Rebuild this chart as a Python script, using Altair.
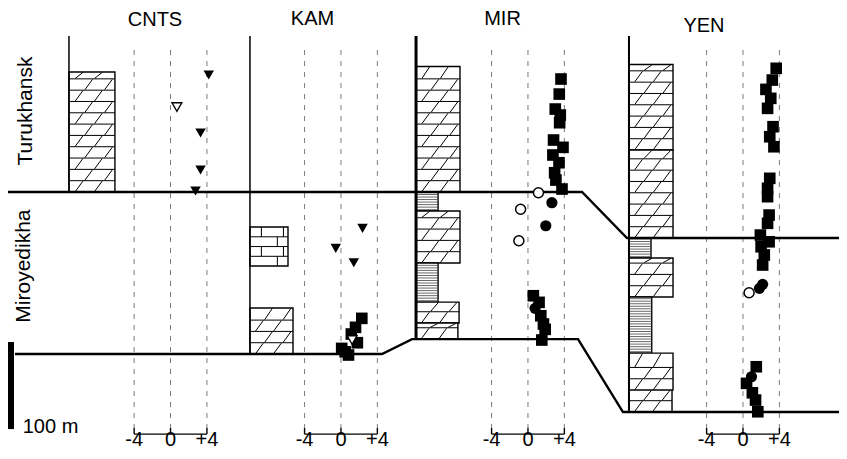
import altair as alt
import pandas as pd

# ---------------- values ----------------
SECTIONS = ["CNTS", "KAM", "MIR", "YEN"]
FORMATIONS = ["Turukhansk", "Miroyedikha"]
TICK_VALUES = [-4, 0, 4]
TICK_LABELS = ["-4", "0", "+4"]
SCALE_BAR_TOP, SCALE_BAR_BASE = 13.8, -86.2          # 100 m bar
SCALE_LABEL = "100 m"

# samples: delta13C (per mil) and level (m above base of Miroyedikha at CNTS)
CNTS_D13C = [4.2, 3.3, 0.7, 3.3, 2.75]
CNTS_LEVEL = [320.6, 254.0, 283.8, 211.4, 187.3]
CNTS_KIND = ["tri", "tri", "tri_open", "tri", "tri"]

KAM_D13C = [2.37, -0.57, 1.41, 2.29, 1.6, 1.14, 1.8, 0.46, 0.08, 0.83, 1.22]
KAM_LEVEL = [144.4, 121.4, 104.9, 41.0, 30.7, 23.0, 13.0, 2.6, 6.5, -1.1, 16.1]
KAM_KIND = ["tri", "tri", "tri", "sq", "sq", "sq", "sq", "sq", "sq", "sq", "tri_open"]

MIR_D13C = [3.63, 3.44, 3.0, 3.55, 3.48, 2.81, 3.85, 2.74, 3.41, 2.93, 3.07, 3.74,
            1.15, 2.63, -0.81, 1.96, -1.0,
            0.59, 1.22, 0.78, 1.41, 1.7, 1.89, 1.52]
MIR_LEVEL = [316.0, 298.7, 281.5, 274.6, 265.8, 245.9, 237.5, 228.7, 219.8, 208.3, 199.9, 189.6,
             185.3, 173.9, 166.3, 147.4, 130.2,
             67.0, 59.4, 52.5, 44.0, 34.5, 28.4, 16.1]
MIR_KIND = ["sq"] * 12 + ["circ_open", "circ", "circ_open", "circ", "circ_open"] + \
           ["sq", "sq", "circ", "sq", "sq", "sq", "sq"]

YEN_D13C = [3.65, 3.22, 2.52, 3.05, 2.7, 3.3, 2.94, 3.4, 2.94, 2.7, 2.7, 2.87, 2.7, 1.91, 2.87, 1.99, 2.34, 2.16,
            2.16, 1.81, 0.67,
            1.46, 0.93, 0.39, 1.03, 1.38, 1.63]
YEN_LEVEL = [328.3, 314.8, 304.1, 293.8, 282.3, 261.2, 249.7, 238.2, 201.9, 190.4, 180.8, 159.7, 150.2, 136.7,
             129.0, 123.3, 113.8, 102.3,
             80.1, 75.5, 70.4,
             -14.6, -26.1, -33.7, -44.5, -52.9, -66.3]
YEN_KIND = ["sq"] * 18 + ["circ", "circ", "circ_open"] + ["sq", "circ", "sq", "sq", "sq", "sq"]

# lithology intervals: section, top (m), base (m), rock type
LITH_SECTION = ["CNTS", "KAM", "KAM",
                "MIR", "MIR", "MIR", "MIR", "MIR", "MIR",
                "YEN", "YEN", "YEN", "YEN", "YEN", "YEN", "YEN"]
LITH_TOP = [324.1, 145.9, 52.9,
            330.3, 186.2, 164.3, 104.6, 59.7, 35.6,
            332.6, 234.4, 133.3, 110.3, 65.5, 1.1, -41.4]
LITH_BASE = [186.2, 101.1, 0.0,
             186.2, 164.3, 104.6, 59.7, 35.6, 17.2,
             234.4, 133.3, 110.3, 65.5, 1.1, -41.4, -66.6]
LITH_TYPE = ["dolomite", "limestone", "dolomite",
             "dolomite", "shale", "dolomite", "shale", "dolomite", "dolomite",
             "dolomite", "dolomite", "shale", "dolomite", "shale", "dolomite", "dolomite"]

# formation boundaries (levels at each section)
COLUMN_BASE = [186.2, 0.0, 17.2, -66.6]
UPPER_BOUNDARY_LEVEL = [186.2, 186.2, 133.3, 133.3]
LOWER_BOUNDARY_LEVEL = [0.0, 0.0, 17.2, 17.2, -66.6, -66.6]

# ---------------- layout (sheet units: 1 unit = 1 per mil) ----------------
X_MAX = 91.32
Y_MIN, Y_MAX = -111.4, 397.6
SECTION_ZERO = [17.86, 36.59, 57.14, 80.77]
COLUMN_X = [6.70, 26.59, 44.84, 68.24]
COLUMN_LINE_W = [1.5, 1.5, 3.0, 2.0]
COLUMN_TOP = 365.4
LITH_WIDTH = [5.05, 4.18, 4.73,
              4.83, 2.42, 4.83, 2.42, 4.73, 4.6,
              4.84, 4.84, 2.42, 4.84, 2.5, 4.84, 4.73]
UPPER_BOUNDARY_X = [0.0, 63.08, 68.02, X_MAX]
LOWER_BOUNDARY_X = [0.77, 41.10, 44.40, 62.64, 67.58, X_MAX]
DASH_TOP, DASH_BASE = 349.3, -83.9
BRACKET_Y, BRACKET_TICK_TOP = -92.0, -84.5
TICK_LABEL_Y = -105.8
TITLE_X = [16.15, 33.46, 54.34, 76.48]
TITLE_Y = [376.9, 378.0, 378.0, 370.0]
FORMATION_X = [2.64, 2.42]
FORMATION_Y = [279.2, 101.1]
SCALE_BAR_X = [0.0, 0.66]
SCALE_LABEL_POS = (1.62, -91.1)
FONT = "Liberation Sans"

X = alt.Scale(domain=[0, X_MAX], nice=False, zero=False)
Y = alt.Scale(domain=[Y_MIN, Y_MAX], nice=False, zero=False)

# ---------------- tables ----------------
samples = []
for sec, d, h, k in [("CNTS", CNTS_D13C, CNTS_LEVEL, CNTS_KIND), ("KAM", KAM_D13C, KAM_LEVEL, KAM_KIND),
                     ("MIR", MIR_D13C, MIR_LEVEL, MIR_KIND), ("YEN", YEN_D13C, YEN_LEVEL, YEN_KIND)]:
    z = SECTION_ZERO[SECTIONS.index(sec)]
    for dv, hv, kv in zip(d, h, k):
        samples.append({"section": sec, "d13c": dv, "level": hv, "kind": kv, "x": z + dv})
samples = pd.DataFrame(samples)

boxes = []
for s, t, b, ty, w in zip(LITH_SECTION, LITH_TOP, LITH_BASE, LITH_TYPE, LITH_WIDTH):
    x0 = COLUMN_X[SECTIONS.index(s)]
    boxes.append({"x": x0, "x2": x0 + w, "y": t, "y2": b, "type": ty})
boxes_df = pd.DataFrame(boxes)


def pattern(b):
    segs, fine = [], []
    x0, x1, top, base = b["x"], b["x2"], b["y"], b["y2"]
    w = x1 - x0
    if b["type"] == "shale":
        y = base + 1.6
        while y < top - 1.0:
            fine.append((x0, x1, y, y))
            y += 2.9
        return segs, fine
    row = 13.0 if b["type"] == "dolomite" else 11.2
    ys = []
    y = base + row
    while y < top - 4:
        ys.append(y)
        y += row
    bounds = [base] + ys + [top]
    for yy in ys:
        segs.append((x0, x1, yy, yy))
    for i in range(len(bounds) - 1):
        lo, hi = bounds[i], bounds[i + 1]
        if b["type"] == "dolomite":
            fr = [0.22, 0.64] if i % 2 == 0 else [0.43, 0.86]
            for f in fr:
                xc = x0 + f * w
                segs.append((xc - 0.42, xc + 0.42, lo + 0.5, hi - 0.5))
        else:
            fr = [0.72] if i % 2 == 0 else [0.3, 0.88]
            for f in fr:
                xc = x0 + f * w
                segs.append((xc, xc, lo, hi))
    return segs, fine


pat, pat_fine = [], []
for _, b in boxes_df.iterrows():
    s, f = pattern(b)
    pat += s
    pat_fine += f
pat_df = pd.DataFrame(pat, columns=["x", "x2", "y", "y2"])
fine_df = pd.DataFrame(pat_fine, columns=["x", "x2", "y", "y2"])

dash_rows, bracket_rows, tick_text = [], [], []
for z in SECTION_ZERO:
    for v, lab in zip(TICK_VALUES, TICK_LABELS):
        dash_rows.append((z + v, z + v, DASH_TOP, DASH_BASE))
        bracket_rows.append((z + v, z + v, BRACKET_Y, BRACKET_TICK_TOP))
        tick_text.append({"x": z + v, "y": TICK_LABEL_Y, "t": lab})
    bracket_rows.append((z + TICK_VALUES[0], z + TICK_VALUES[-1], BRACKET_Y, BRACKET_Y))
dash_df = pd.DataFrame(dash_rows, columns=["x", "x2", "y", "y2"])
bracket_df = pd.DataFrame(bracket_rows, columns=["x", "x2", "y", "y2"])
tick_df = pd.DataFrame(tick_text)

col_df = pd.DataFrame({"x": COLUMN_X, "x2": COLUMN_X, "y": [COLUMN_TOP] * 4, "y2": COLUMN_BASE,
                       "w": COLUMN_LINE_W})

bound_df = pd.DataFrame(
    [{"line": "upper", "i": i, "x": x, "y": y} for i, (x, y) in enumerate(zip(UPPER_BOUNDARY_X, UPPER_BOUNDARY_LEVEL))] +
    [{"line": "lower", "i": i, "x": x, "y": y} for i, (x, y) in enumerate(zip(LOWER_BOUNDARY_X, LOWER_BOUNDARY_LEVEL))])

title_df = pd.DataFrame({"x": TITLE_X, "y": TITLE_Y, "t": SECTIONS})
form_df = pd.DataFrame({"x": FORMATION_X, "y": FORMATION_Y, "t": FORMATIONS})
bar_df = pd.DataFrame({"x": [SCALE_BAR_X[0]], "x2": [SCALE_BAR_X[1]], "y": [SCALE_BAR_TOP], "y2": [SCALE_BAR_BASE]})
scale_lab_df = pd.DataFrame({"x": [SCALE_LABEL_POS[0]], "y": [SCALE_LABEL_POS[1]], "t": [SCALE_LABEL]})


def enc_seg(ch):
    return ch.encode(x=alt.X("x:Q", scale=X, axis=None), x2="x2:Q",
                     y=alt.Y("y:Q", scale=Y, axis=None), y2="y2:Q")


def enc_pt(ch):
    return ch.encode(x=alt.X("x:Q", scale=X, axis=None), y=alt.Y("y:Q", scale=Y, axis=None))


layers = []
layers.append(enc_seg(alt.Chart(dash_df).mark_rule(color="#7a7a7a", strokeWidth=1, strokeDash=[5, 6])))
layers.append(enc_seg(alt.Chart(boxes_df).mark_rect(fill="white", stroke="black", strokeWidth=1.4)))
layers.append(enc_seg(alt.Chart(fine_df).mark_rule(color="#444444", strokeWidth=0.8)))
layers.append(enc_seg(alt.Chart(pat_df).mark_rule(color="black", strokeWidth=1)))
layers.append(alt.Chart(col_df).mark_rule(color="black").encode(
    x=alt.X("x:Q", scale=X, axis=None), x2="x2:Q", y=alt.Y("y:Q", scale=Y, axis=None), y2="y2:Q",
    strokeWidth=alt.StrokeWidth("w:Q", scale=None, legend=None)))
layers.append(alt.Chart(bound_df).mark_line(color="black", strokeWidth=2.4).encode(
    x=alt.X("x:Q", scale=X, axis=None), y=alt.Y("y:Q", scale=Y, axis=None),
    detail="line:N", order="i:Q"))
layers.append(enc_seg(alt.Chart(bracket_df).mark_rule(color="black", strokeWidth=1.4)))
layers.append(enc_seg(alt.Chart(bar_df).mark_rect(color="black")))

pt_enc = dict(x=alt.X("x:Q", scale=X, axis=None), y=alt.Y("level:Q", scale=Y, axis=None))
layers.append(alt.Chart(samples).transform_filter("datum.kind == 'sq'").mark_point(
    shape="square", filled=True, color="black", size=135, opacity=1).encode(**pt_enc))
layers.append(alt.Chart(samples).transform_filter("datum.kind == 'tri_open'").mark_point(
    shape="triangle-down", filled=True, fill="white", stroke="black", strokeWidth=1.4, size=95,
    opacity=1).encode(**pt_enc))
layers.append(alt.Chart(samples).transform_filter("datum.kind == 'circ_open'").mark_point(
    shape="circle", filled=True, fill="white", stroke="black", strokeWidth=1.5, size=100,
    opacity=1).encode(**pt_enc))
layers.append(alt.Chart(samples).transform_filter("datum.kind == 'tri'").mark_point(
    shape="triangle-down", filled=True, color="black", size=110, opacity=1).encode(**pt_enc))
layers.append(alt.Chart(samples).transform_filter("datum.kind == 'circ'").mark_point(
    shape="circle", filled=True, color="black", size=125, opacity=1).encode(**pt_enc))

txt = dict(font=FONT, color="black")
layers.append(enc_pt(alt.Chart(title_df).mark_text(fontSize=20, align="center", baseline="alphabetic", **txt)).encode(text="t:N"))
layers.append(enc_pt(alt.Chart(form_df).mark_text(fontSize=21, align="center", baseline="alphabetic", angle=270, **txt)).encode(text="t:N"))
layers.append(enc_pt(alt.Chart(tick_df).mark_text(fontSize=20, align="center", baseline="alphabetic", **txt)).encode(text="t:N"))
layers.append(enc_pt(alt.Chart(scale_lab_df).mark_text(fontSize=20, align="left", baseline="alphabetic", **txt)).encode(text="t:N"))

chart = alt.layer(*layers).properties(
    width=831, height=443, padding=0, background="white",
    autosize=alt.AutoSizeParams(type="none"),
).configure_view(strokeWidth=0)

chart.save("out.html", embed_options={"renderer": "svg", "actions": False})
